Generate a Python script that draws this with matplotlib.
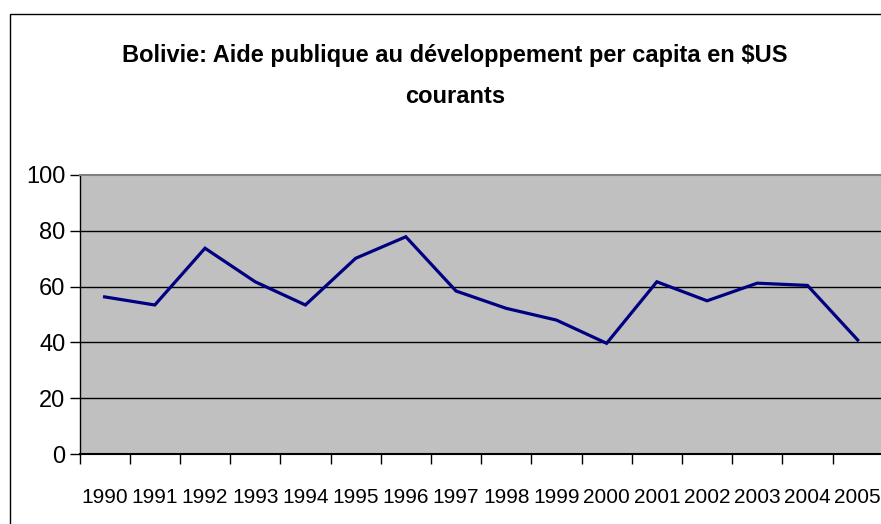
import matplotlib
matplotlib.use("Agg")
import matplotlib.pyplot as plt
from matplotlib.patches import Rectangle
import numpy as np

years = ["1990", "1991", "1992", "1993", "1994", "1995", "1996", "1997",
         "1998", "1999", "2000", "2001", "2002", "2003", "2004", "2005"]
aid_per_capita = [56.3, 53.4, 73.7, 61.7, 53.4, 70.1, 77.8, 58.4,
                  52.2, 48.0, 39.7, 61.7, 54.9, 61.2, 60.4, 40.9]
y_ticks = [0, 20, 40, 60, 80, 100]

plt.rcParams['font.family'] = ['Liberation Sans', 'DejaVu Sans']

fig = plt.figure(figsize=(8.81, 5.24), dpi=100)
fig.patch.set_facecolor('white')

# outer chart border (cropped at right and bottom)
fig.patches.append(Rectangle((10 / 881, -0.1), 1.2, 1 - 14 / 524 + 0.1,
                             transform=fig.transFigure, fill=False,
                             edgecolor='black', linewidth=1.0))

ax = fig.add_axes([79.5 / 881, 1 - 454.3 / 524, (881 - 79.5) / 881 + 0.002,
                   (454.3 - 174.7) / 524])
ax.set_facecolor('#C0C0C0')

x = np.arange(len(years))
ax.plot(x, aid_per_capita, color='#000080', linewidth=2.3, solid_joinstyle='miter')

ax.set_xlim(-0.5, len(years) - 0.5)
ax.set_ylim(0, 100)

ax.set_yticks(y_ticks)
ax.set_yticklabels([str(v) for v in y_ticks], fontsize=17)
ax.tick_params(axis='y', length=7, width=1, pad=3)
for v in y_ticks[1:-1]:
    ax.axhline(v, color='black', linewidth=1.0, zorder=1)

ax.set_xticks(x)
ax.set_xticklabels(years, fontsize=15)
ax.set_xticks(np.arange(len(years) + 1) - 0.5, minor=True)
ax.tick_params(axis='x', which='major', length=0, pad=24)
ax.tick_params(axis='x', which='minor', length=7, width=1)

ax.spines['top'].set_color('#808080')
ax.spines['top'].set_linewidth(1.5)
ax.spines['right'].set_visible(False)
ax.spines['left'].set_linewidth(1.0)
ax.spines['bottom'].set_linewidth(1.5)

fig.text(455 / 881, 1 - 62 / 524, "Bolivie: Aide publique au développement per capita en $US",
         ha='center', va='baseline', fontsize=17, fontweight='bold')
fig.text(455 / 881, 1 - 103 / 524, "courants",
         ha='center', va='baseline', fontsize=17, fontweight='bold')

fig.savefig("out.png", dpi=100)
